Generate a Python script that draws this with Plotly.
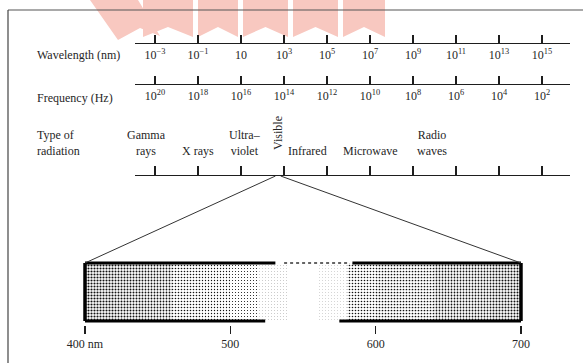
import math
import plotly.graph_objects as go

W, H = 583, 363

# ---------------- data ----------------
WAVELENGTH_EXP = [-3, -1, 1, 3, 5, 7, 9, 11, 13, 15]
WAVELENGTH_TICKS = ["10<sup>−3</sup>", "10<sup>−1</sup>", "10", "10<sup>3</sup>", "10<sup>5</sup>",
                    "10<sup>7</sup>", "10<sup>9</sup>", "10<sup>11</sup>", "10<sup>13</sup>", "10<sup>15</sup>"]
FREQUENCY_EXP = [20, 18, 16, 14, 12, 10, 8, 6, 4, 2]
FREQUENCY_TICKS = ["10<sup>20</sup>", "10<sup>18</sup>", "10<sup>16</sup>", "10<sup>14</sup>", "10<sup>12</sup>",
                   "10<sup>10</sup>", "10<sup>8</sup>", "10<sup>6</sup>", "10<sup>4</sup>", "10<sup>2</sup>"]
RADIATION_TYPES = ["Gamma<br>rays", "X rays", "Ultra–<br>violet", "Infrared", "Microwave", "Radio<br>waves"]
RADIATION_LOG_WL = [-3.4, -1.0, 1.2, 4.1, 7.0, 9.9]
VISIBLE_LABEL = "Visible"
VISIBLE_LOG_WL = 2.72
VISIBLE_NM = [400, 700]
VISIBLE_TICKS_NM = [400, 500, 600, 700]
VISIBLE_TICK_LABELS = ["400 nm", "500", "600", "700"]
STIPPLE_NM = [410, 430, 450, 470, 490, 510, 530, 550, 570, 590, 610, 630, 650, 670, 690]
STIPPLE_DENSITY = [0.40, 0.34, 0.30, 0.22, 0.16, 0.11, 0.03, 0.0, 0.02, 0.22, 0.26, 0.26, 0.28, 0.30, 0.36]
# visible band edge segments (nm) as printed (gap in the middle of the scan)
BAND_TOP_SEGMENTS = [[400, 531], [584, 700]]
BAND_TOP_FAINT = [537, 582]
BAND_BOTTOM_SEGMENTS = [[400, 524], [575, 700]]

# ---------------- layout constants ----------------
Y_WL, Y_FREQ, Y_RAD = 43, 84, 175
BAND_TOP, BAND_BOT, Y_VIS_AXIS = 263, 321, 325
AX_L, AX_R = 135, 570
WL_PX0, WL_EXP0, PX_PER_DEC = 155.0, -3.0, 21.5
VIS_PX0, VIS_PX_PER_NM = 85.0, 1.4533

def px_to_wl(px):
    return WL_EXP0 + (px - WL_PX0) / PX_PER_DEC

def wl_to_px(e):
    return WL_PX0 + (e - WL_EXP0) * PX_PER_DEC

def px_to_nm(px):
    return 400 + (px - VIS_PX0) / VIS_PX_PER_NM

def frac(py):
    return 1 - py / H

WL_RANGE = [px_to_wl(AX_L), px_to_wl(AX_R)]
FREQ_RANGE = [17 - WL_RANGE[0], 17 - WL_RANGE[1]]
NM_RANGE = [px_to_nm(0), px_to_nm(W)]

FONT = "Liberation Serif"
FS = 12
TXT = "#262626"
INK = "#1e1e1e"

fig = go.Figure()

# faint watermark banners of the scanned page (drawn first, behind everything)
def px_path(points):
    segs = []
    for i, (px, py) in enumerate(points):
        segs.append(("M" if i == 0 else "L") + f"{px / W:.5f},{1 - py / H:.5f}")
    return " ".join(segs) + " Z"

BANNERS = [[143, 193], [198, 238], [243, 288], [293, 338], [343, 385]]
for a, b in BANNERS:
    m = (a + b) / 2
    fig.add_shape(type="path", xref="paper", yref="paper",
                  path=px_path([(a, 0), (b, 0), (b, 37), (m, 27), (a, 37)]),
                  fillcolor="#f8c8c0", line=dict(width=0), layer="below")
fig.add_shape(type="path", xref="paper", yref="paper",
              path=px_path([(90, 0), (138, 0), (160, 36), (140, 28), (118, 40)]),
              fillcolor="#f8c8c0", line=dict(width=0), layer="below")

# invisible anchor traces so every axis is drawn
fig.add_trace(go.Scatter(x=WAVELENGTH_EXP, y=[Y_WL] * 10, xaxis="x", yaxis="y", mode="markers",
                         marker=dict(opacity=0), hoverinfo="skip", showlegend=False))
fig.add_trace(go.Scatter(x=FREQUENCY_EXP, y=[Y_FREQ] * 10, xaxis="x3", yaxis="y", mode="markers",
                         marker=dict(opacity=0), hoverinfo="skip", showlegend=False))
fig.add_trace(go.Scatter(x=WAVELENGTH_EXP, y=[Y_RAD] * 10, xaxis="x4", yaxis="y", mode="markers",
                         marker=dict(opacity=0), hoverinfo="skip", showlegend=False))

# stippled visible band
fig.add_trace(go.Bar(
    x=STIPPLE_NM, y=[BAND_BOT - BAND_TOP] * len(STIPPLE_NM), base=[BAND_TOP] * len(STIPPLE_NM),
    width=[20] * len(STIPPLE_NM), xaxis="x2", yaxis="y",
    marker=dict(color="white", line=dict(width=0),
                pattern=dict(shape=["." if d > 0 else "" for d in STIPPLE_DENSITY],
                             size=3, solidity=[max(d, 0.01) for d in STIPPLE_DENSITY],
                             fgcolor="#111", bgcolor="white", fillmode="replace")),
    hoverinfo="skip", showlegend=False))

# band borders
for a, b in BAND_TOP_SEGMENTS:
    fig.add_trace(go.Scatter(x=[a, b], y=[BAND_TOP, BAND_TOP], xaxis="x2", yaxis="y", mode="lines",
                             line=dict(color="black", width=3), hoverinfo="skip", showlegend=False))
fig.add_trace(go.Scatter(x=BAND_TOP_FAINT, y=[BAND_TOP, BAND_TOP], xaxis="x2", yaxis="y", mode="lines",
                         line=dict(color="#333", width=1.5, dash="dot"), hoverinfo="skip", showlegend=False))
for a, b in BAND_BOTTOM_SEGMENTS:
    fig.add_trace(go.Scatter(x=[a, b], y=[BAND_BOT, BAND_BOT], xaxis="x2", yaxis="y", mode="lines",
                             line=dict(color="black", width=3), hoverinfo="skip", showlegend=False))
for nm in VISIBLE_NM:
    fig.add_trace(go.Scatter(x=[nm, nm], y=[BAND_TOP, BAND_BOT], xaxis="x2", yaxis="y", mode="lines",
                             line=dict(color="black", width=3.5), hoverinfo="skip", showlegend=False))

# zoom lines from the band to the visible region of the spectrum
for nm in VISIBLE_NM:
    top_x = px_to_nm(wl_to_px(math.log10(nm)))
    fig.add_trace(go.Scatter(x=[nm, top_x], y=[BAND_TOP, Y_RAD + 1], xaxis="x2", yaxis="y", mode="lines",
                             line=dict(color="#333", width=1), hoverinfo="skip", showlegend=False))

axis_common = dict(showgrid=False, zeroline=False, showline=True, linecolor=INK, linewidth=1.2,
                   ticks="inside", tickcolor=INK, tickwidth=1.2, anchor="free",
                   tickfont=dict(family=FONT, size=FS, color=TXT), fixedrange=True)

fig.update_layout(
    width=W, height=H, margin=dict(l=0, r=0, t=0, b=0),
    paper_bgcolor="white", plot_bgcolor="rgba(0,0,0,0)", showlegend=False,
    yaxis=dict(range=[H, 0], domain=[0, 1], visible=False, fixedrange=True),
    xaxis=dict(axis_common, domain=[AX_L / W, AX_R / W], range=WL_RANGE, position=frac(Y_WL),
               tickvals=WAVELENGTH_EXP, ticktext=WAVELENGTH_TICKS, ticklen=8),
    xaxis3=dict(axis_common, domain=[AX_L / W, AX_R / W], range=FREQ_RANGE, position=frac(Y_FREQ),
                tickvals=FREQUENCY_EXP, ticktext=FREQUENCY_TICKS, ticklen=8),
    xaxis4=dict(axis_common, domain=[AX_L / W, AX_R / W], range=WL_RANGE, position=frac(Y_RAD),
                tickvals=WAVELENGTH_EXP, showticklabels=False, ticklen=9),
    xaxis2=dict(showgrid=False, zeroline=False, showline=False, anchor="free", position=frac(Y_VIS_AXIS),
                domain=[0, 1], range=NM_RANGE, ticks="outside", ticklen=8, tickcolor=INK, tickwidth=1.2,
                tickvals=VISIBLE_TICKS_NM, ticktext=VISIBLE_TICK_LABELS,
                tickfont=dict(family=FONT, size=FS, color=TXT), fixedrange=True),
    bargap=0,
)

ann = []
ann.append(dict(text="Wavelength (nm)", x=35 / W, xref="paper", y=55, yref="y", xanchor="left",
                yanchor="middle", showarrow=False, font=dict(family=FONT, size=FS, color=TXT)))
ann.append(dict(text="Frequency (Hz)", x=35 / W, xref="paper", y=98, yref="y", xanchor="left",
                yanchor="middle", showarrow=False, font=dict(family=FONT, size=FS, color=TXT)))
ann.append(dict(text="Type of<br>radiation", x=35 / W, xref="paper", y=160, yref="y", xanchor="left",
                yanchor="bottom", align="left", showarrow=False, font=dict(family=FONT, size=FS, color=TXT)))
for name, e in zip(RADIATION_TYPES, RADIATION_LOG_WL):
    ann.append(dict(text=name, x=e, xref="x4", y=160, yref="y", xanchor="center", yanchor="bottom",
                    align="center", showarrow=False, font=dict(family=FONT, size=FS, color=TXT)))
ann.append(dict(text=VISIBLE_LABEL, x=VISIBLE_LOG_WL, xref="x4", y=133, yref="y", textangle=-90,
                xanchor="center", yanchor="middle", showarrow=False,
                font=dict(family=FONT, size=FS, color=TXT)))
fig.update_layout(annotations=ann)

# page frame of the scan
fig.add_shape(type="line", xref="paper", yref="paper", x0=8 / W, x1=1, y0=frac(10), y1=frac(10),
              line=dict(color="#555", width=1.2))
fig.add_shape(type="line", xref="paper", yref="paper", x0=8 / W, x1=8 / W, y0=frac(10), y1=0,
              line=dict(color="#444", width=1.2))

fig.write_html("out.html", config={"displayModeBar": False, "staticPlot": True},
               post_script="document.body.style.margin='0';")
